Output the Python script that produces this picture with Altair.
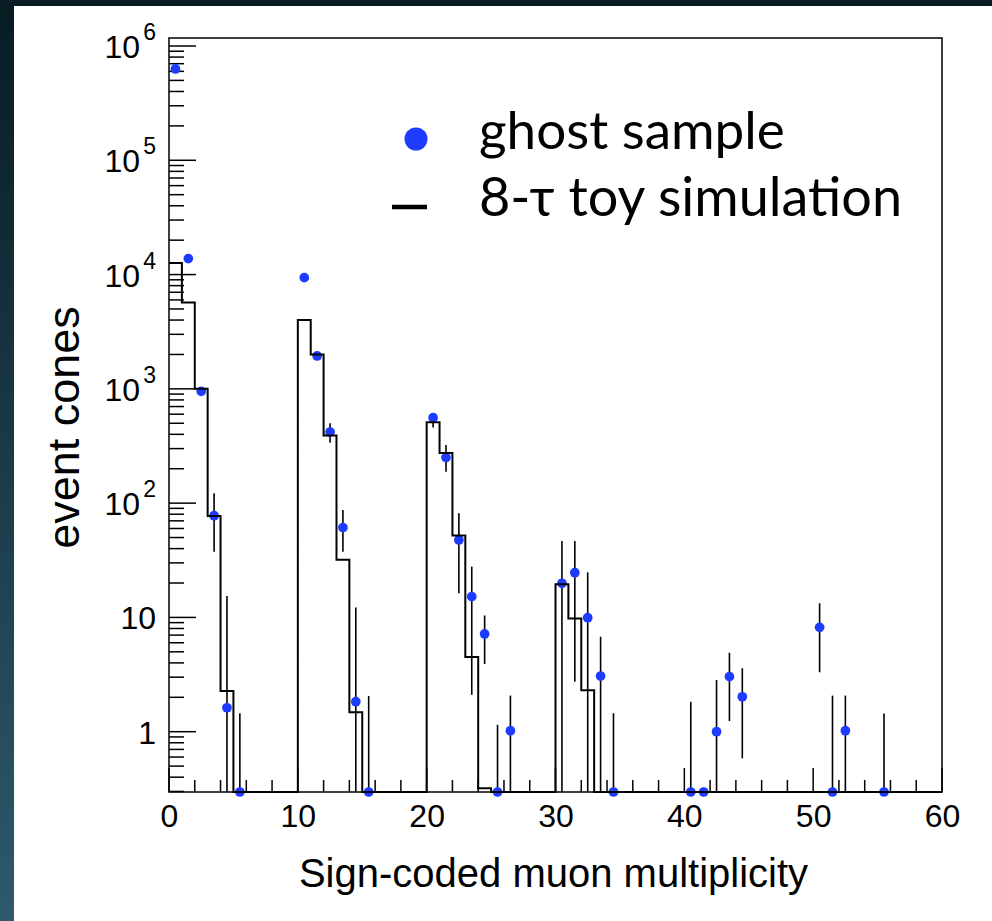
import altair as alt
import pandas as pd

# ---------------- data ----------------
# 8-tau toy simulation histogram, bins [k, k+1)
HIST_BINS = list(range(0, 60))
HIST_VALUES = [12600, 5700, 1000, 77, 2.27, 0, 0, 0, 0, 0,
               4000, 2000, 390, 32, 1.48, 0, 0, 0, 0, 0,
               510, 275, 52, 4.5, 0.32, 0, 0, 0, 0, 0,
               19.5, 9.8, 2.3, 0, 0, 0, 0, 0, 0, 0,
               0, 0, 0, 0, 0, 0, 0, 0, 0, 0,
               0, 0, 0, 0, 0, 0, 0, 0, 0, 0]

# ghost sample points (bin index, value, error-bar low, error-bar high)
PT_BIN = [0, 1, 2, 3, 4, 5,
          10, 11, 12, 13, 14, 15,
          20, 21, 22, 23, 24, 25, 26,
          30, 31, 32, 33, 34,
          40, 41, 42, 43, 44,
          50, 51, 52, 55]
PT_VAL = [6.3e5, 1.38e4, 950, 77.6, 1.62, 0,
          9400, 1940, 419, 61, 1.83, 0,
          559, 251, 47.6, 15.2, 7.16, 0, 1.02,
          19.9, 24.6, 9.94, 3.07, 0,
          0, 0, 1.0, 3.03, 2.02,
          8.19, 0, 1.02, 0]
PT_LO = [6.25e5, 1.33e4, 900, 37.6, 0, 0,
         9200, 1850, 337, 37.6, 0, 0,
         460, 188, 16.3, 2.1, 3.91, 0, 0,
         0, 2.74, 0, 0, 0,
         0, 0, 0, 1.24, 0.585,
         3.31, 0, 0, 0]
PT_HI = [6.35e5, 1.43e4, 1000, 122, 15.4, 1.45,
         9600, 2030, 499, 87, 12.2, 2.05,
         600, 322, 81.5, 27.8, 10.4, 1.15, 2.07,
         46.6, 46.6, 24.8, 6.78, 1.45,
         1.83, 0, 2.83, 4.91, 3.59,
         13.3, 2.07, 2.07, 1.44]

X_LABEL_VALUES = [0, 10, 20, 30, 40, 50, 60]
X_MINOR_TICKS = [2, 4, 6, 8, 12, 14, 16, 18, 22, 24, 26, 28, 32, 34, 36, 38,
                 42, 44, 46, 48, 52, 54, 56, 58]
Y_PLAIN_VALUES = [1, 10]
Y_PLAIN_TEXT = ["1", "10"]
Y_POW_VALUES = [1e2, 1e3, 1e4, 1e5, 1e6]
Y_POW_EXP = ["2", "3", "4", "5", "6"]
Y_MAJOR_TICKS = [1, 10, 1e2, 1e3, 1e4, 1e5, 1e6]

LEGEND_TEXT = ["ghost sample", "8-\u03c4 toy simulation"]

YMIN, YMAX = 0.2967, 1.175e6
BLUE = "#1e3cff"
SANS = "Liberation Sans, Arial, Helvetica"
W, H = 773, 754

y_minor = [k * 10.0 ** d for d in range(-1, 6) for k in range(2, 10) if k * 10.0 ** d >= YMIN]

# ---------------- tables ----------------
hist_df = pd.DataFrame({
    "x": HIST_BINS + [60],
    "y": [max(v, YMIN) for v in HIST_VALUES + [HIST_VALUES[-1]]],
})
pts_df = pd.DataFrame({
    "x": [b + 0.5 for b in PT_BIN],
    "v": [max(v, YMIN) for v in PT_VAL],
    "lo": [max(v, YMIN) for v in PT_LO],
    "hi": [max(v, YMIN) for v in PT_HI],
})
one = pd.DataFrame({"a": [0]})

XS = alt.Scale(domain=[0, 60], nice=False, zero=False)
YS = alt.Scale(type="log", domain=[YMIN, YMAX], nice=False, clamp=True)

X_AXIS = alt.Axis(values=X_LABEL_VALUES, format="d", labelFont=SANS, labelFontSize=32,
                  labelColor="black", ticks=False, tickSize=0, domain=False, grid=False,
                  labelPadding=9, labelFlush=False, labelOverlap=False,
                  title="Sign-coded muon multiplicity", titleFont=SANS,
                  titleFontSize=40, titleFontWeight="normal", titleColor="black",
                  titleX=384, titleY=94, titleAlign="center", titleBaseline="alphabetic")
Y_AXIS = alt.Axis(labels=False, ticks=False, domain=False, grid=False,
                  title="event cones", titleFont=SANS, titleFontSize=45,
                  titleFontWeight="normal", titleColor="black", titleAngle=270,
                  titleX=-91, titleY=389, titleAlign="center", titleBaseline="alphabetic")


def X(field):
    return alt.X(field, type="quantitative", scale=XS, axis=X_AXIS)


def Y(field):
    return alt.Y(field, type="quantitative", scale=YS, axis=Y_AXIS)


# ---------------- background strips ----------------
left_strip = alt.Chart(one).mark_rect(
    color=alt.LinearGradient(gradient="linear",
                             stops=[alt.GradientStop(color="#081b23", offset=0),
                                    alt.GradientStop(color="#2d5a6c", offset=1)],
                             x1=0, x2=0, y1=0, y2=1)
).encode(x=alt.value(-169), x2=alt.value(-155), y=alt.value(-38), y2=alt.value(883))
top_strip = alt.Chart(one).mark_rect(color="#0a1c24").encode(
    x=alt.value(-169), x2=alt.value(823), y=alt.value(-38), y2=alt.value(-32))

# ---------------- ticks ----------------
ymaj = alt.Chart(pd.DataFrame({"v": Y_MAJOR_TICKS})).mark_rule(color="black", strokeWidth=1.5).encode(
    y=Y("v"), x=alt.value(0), x2=alt.value(27))
ymin_t = alt.Chart(pd.DataFrame({"v": y_minor})).mark_rule(color="black", strokeWidth=1.5).encode(
    y=Y("v"), x=alt.value(0), x2=alt.value(15))
xmaj = alt.Chart(pd.DataFrame({"x": X_LABEL_VALUES})).mark_rule(color="black", strokeWidth=1.5).encode(
    x=X("x"), y=alt.value(H), y2=alt.value(H - 24))
xmin_t = alt.Chart(pd.DataFrame({"x": X_MINOR_TICKS})).mark_rule(color="black", strokeWidth=1.5).encode(
    x=X("x"), y=alt.value(H), y2=alt.value(H - 12))

# ---------------- y labels ----------------
ylab_plain = alt.Chart(pd.DataFrame({"v": Y_PLAIN_VALUES, "t": Y_PLAIN_TEXT})).mark_text(
    align="right", baseline="alphabetic", dy=12, font=SANS, fontSize=32, color="black"
).encode(y=Y("v"), x=alt.value(-13), text="t:N")
ylab_pow = alt.Chart(pd.DataFrame({"v": Y_POW_VALUES})).mark_text(
    align="right", baseline="alphabetic", dy=12, font=SANS, fontSize=32, color="black", text="10"
).encode(y=Y("v"), x=alt.value(-29))
ylab_exp = alt.Chart(pd.DataFrame({"v": Y_POW_VALUES, "t": Y_POW_EXP})).mark_text(
    align="right", baseline="alphabetic", dy=-6, font=SANS, fontSize=23, color="black"
).encode(y=Y("v"), x=alt.value(-13), text="t:N")

# ---------------- data layers ----------------
errbars = alt.Chart(pts_df).mark_rule(color="black", strokeWidth=1.6).encode(
    x=X("x"), y=Y("lo"), y2="hi")
points = alt.Chart(pts_df).mark_point(filled=True, size=95, color=BLUE, opacity=1).encode(
    x=X("x"), y=Y("v"))
hist = alt.Chart(hist_df).mark_line(interpolate="step-after", color="black", strokeWidth=2).encode(
    x=X("x"), y=Y("y"))

# ---------------- legend ----------------
leg_dot = alt.Chart(one).mark_point(filled=True, size=530, color=BLUE, opacity=1).encode(
    x=alt.value(247), y=alt.value(101))
leg_dash = alt.Chart(one).mark_rule(color="black", strokeWidth=4.5).encode(
    x=alt.value(223), x2=alt.value(258), y=alt.value(169))
leg_t1 = alt.Chart(one).mark_text(text=LEGEND_TEXT[0], align="left", baseline="alphabetic",
                                  font="Lato", fontSize=53, color="black").encode(
    x=alt.value(310), y=alt.value(111))
leg_t2 = alt.Chart(one).mark_text(text=LEGEND_TEXT[1], align="left", baseline="alphabetic",
                                  font="Lato", fontSize=54, color="black").encode(
    x=alt.value(310), y=alt.value(178))

chart = alt.layer(
    left_strip, top_strip, ymaj, ymin_t, xmaj, xmin_t,
    ylab_plain, ylab_pow, ylab_exp,
    errbars, points, hist,
    leg_dot, leg_dash, leg_t1, leg_t2,
).properties(
    width=W, height=H,
    autosize=alt.AutoSizeParams(type="none"),
    padding={"left": 169, "top": 38, "right": 50, "bottom": 129},
).configure(background="white").configure_view(stroke="black", strokeWidth=1.5)

chart.save("out.html", embed_options={"renderer": "svg", "actions": False})
